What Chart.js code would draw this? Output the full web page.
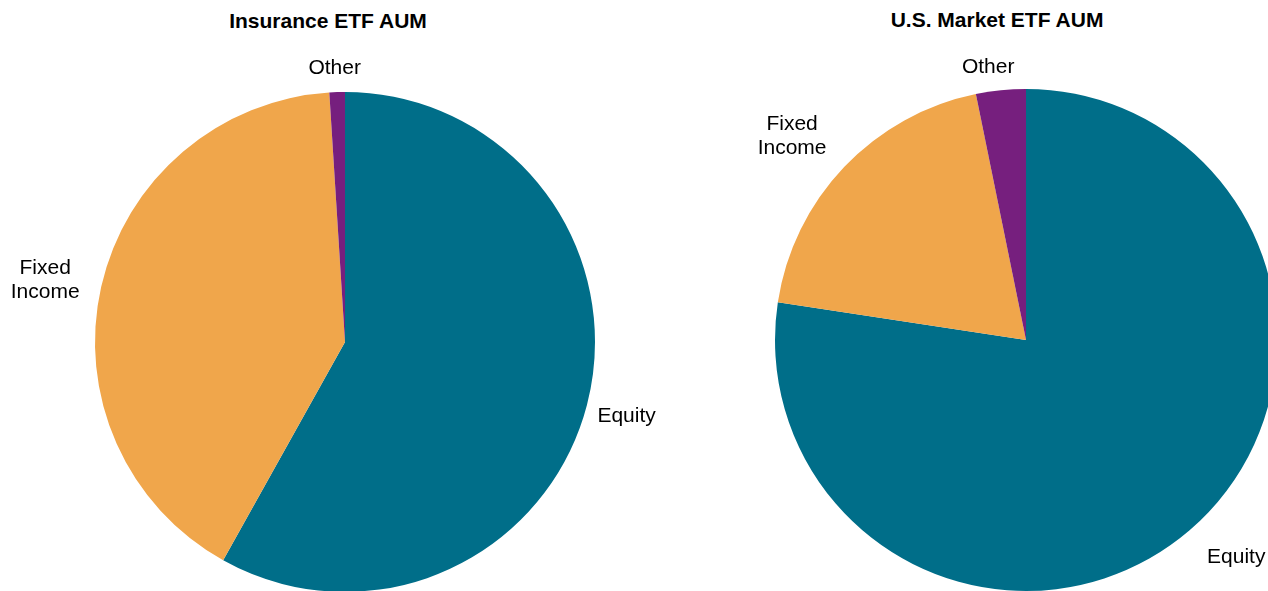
<!DOCTYPE html>
<html>
<head>
<meta charset="utf-8">
<script src="https://cdn.jsdelivr.net/npm/chart.js@4"></script>
<style>
  html, body { margin: 0; padding: 0; background: #fff; overflow: hidden; }
  body { width: 1268px; height: 591px; position: relative; font-family: "Liberation Sans", Arial, sans-serif; }
  .title { position: absolute; font-weight: bold; font-size: 21px; color: #000; text-align: center; width: 400px; }
  .box { position: absolute; top: 0; height: 600px; }
</style>
</head>
<body>
<div class="title" style="left:128px; top:9px;">Insurance ETF AUM</div>
<div class="title" style="left:797px; top:8px;">U.S. Market ETF AUM</div>
<div class="box" style="left:0; width:680px;"><canvas id="insChart"></canvas></div>
<div class="box" style="left:640px; width:700px;"><canvas id="mktChart"></canvas></div>
<script>
// categories and shares (%)
const categories = ["Equity", "Fixed Income", "Other"];
const sliceLabels = ["Equity", ["Fixed", "Income"], "Other"];
const insuranceShares = [58.1, 40.9, 1.0];
const marketShares = [77.4, 19.4, 3.2];
const sliceColors = ["#006e89", "#f0a64b", "#761f7e"];

// draws the category names just outside each slice
const outsideLabels = {
  id: "outsideLabels",
  afterDatasetsDraw(chart, args, opts) {
    const ctx = chart.ctx;
    const arcs = chart.getDatasetMeta(0).data;
    const nudge = opts.nudge || [];
    ctx.save();
    ctx.font = "21px 'Liberation Sans', Arial, sans-serif";
    ctx.fillStyle = "#000";
    ctx.textBaseline = "middle";
    ctx.textAlign = "center";
    const lineH = 24;
    arcs.forEach((arc, i) => {
      const mid = (arc.startAngle + arc.endAngle) / 2;
      const r = arc.outerRadius + 16;
      const [nx, ny] = nudge[i] || [0, 0];
      const ax = arc.x + Math.cos(mid) * r + nx;
      const ay = arc.y + Math.sin(mid) * r + ny;
      const lines = [].concat(sliceLabels[i]);
      const w = Math.max(...lines.map(l => ctx.measureText(l).width));
      const h = lines.length * lineH;
      const c = Math.cos(mid), s = Math.sin(mid);
      const left = c > 0.3 ? ax : c < -0.3 ? ax - w : ax - w / 2;
      const top = s > 0.3 ? ay : s < -0.3 ? ay - h : ay - h / 2;
      lines.forEach((l, k) => {
        ctx.fillText(l, left + w / 2, top + lineH * k + lineH / 2);
      });
    });
    ctx.restore();
  }
};

function makePie(id, values, pad, nudge) {
  new Chart(document.getElementById(id), {
    type: "pie",
    data: {
      labels: categories,
      datasets: [{ data: values, backgroundColor: sliceColors, borderWidth: 0 }]
    },
    options: {
      responsive: true,
      maintainAspectRatio: false,
      animation: false,
      layout: { padding: pad },
      plugins: {
        legend: { display: false },
        tooltip: { enabled: false },
        outsideLabels: { nudge: nudge }
      }
    },
    plugins: [outsideLabels]
  });
}

makePie("insChart", insuranceShares, { left: 95, top: 92, right: 85, bottom: 8 },
  [[-5, 7], [-6, -3], [-2, 4]]);
makePie("mktChart", marketShares, { left: 135, top: 89, right: 63, bottom: 9 },
  [[7, 3], [-6, 4], [-11, 5]]);
</script>
</body>
</html>
